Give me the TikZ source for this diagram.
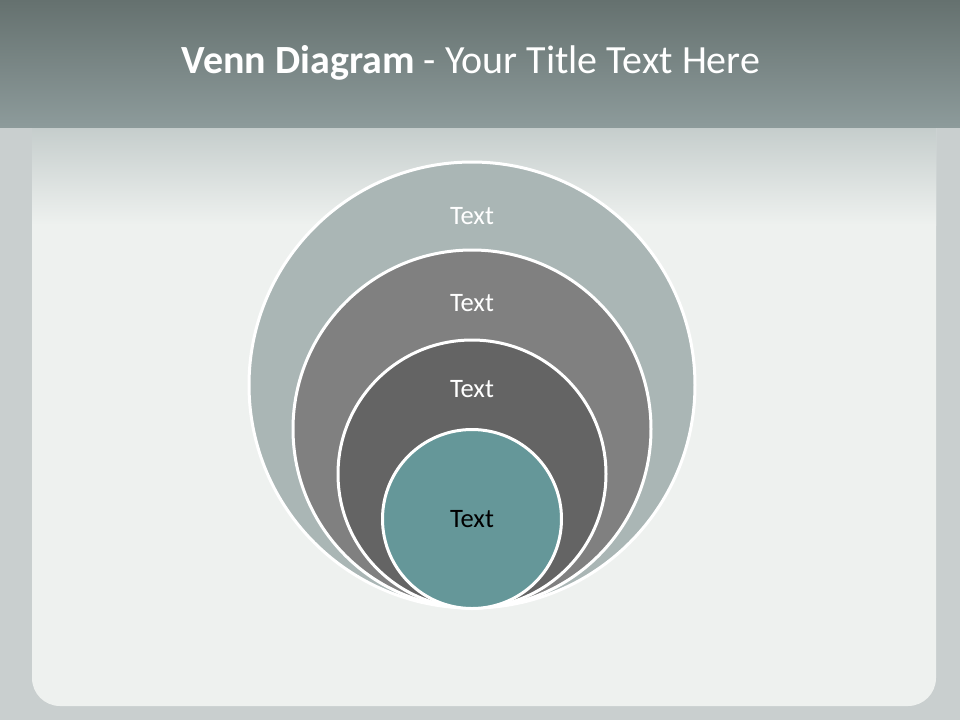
\documentclass[tikz,border=0pt]{standalone}
\usepackage{fontspec}
\setmainfont{Carlito}
\usepackage{xcolor}
\usepackage{tikz}
\usetikzlibrary{positioning}
\definecolor{barTop}{HTML}{65716F}
\definecolor{barBottom}{HTML}{8D9B9B}
\definecolor{frame}{HTML}{C9CFCF}
\definecolor{panel}{HTML}{EEF1EF}
\definecolor{panelTop}{HTML}{C5CDCC}
\definecolor{ringA}{HTML}{AAB6B5}
\definecolor{ringB}{HTML}{808080}
\definecolor{ringC}{HTML}{646464}
\definecolor{core}{HTML}{659799}
\tikzset{
  ring/.style={
    circle, draw=white, line width=1.5pt, fill=#1,
    inner sep=0pt,
  },
  ringtext/.style={font=\fontsize{13.3}{16}\selectfont, text=white},
}

\begin{document}
\begin{tikzpicture}[x=0.5pt, y=-0.5pt]

  % background
  \fill[frame] (0,0) rectangle (960,720);
  \fill[panel, rounded corners=14pt] (32,100) rectangle (936,706);
  \shade[top color=panelTop, bottom color=panel] (32,127) rectangle (936,225);
  \shade[top color=barTop, bottom color=barBottom] (0,0) rectangle (960,127);

  \node[font=\fontsize{20}{24}\selectfont, text=white] (title) at (471,63)
    {\textbf{Venn Diagram} - Your Title Text Here};

  % nested circles
  \node[ring=ringA, minimum size=223pt] (outer) at (472,385) {};
  \node[ring=ringB, minimum size=179pt] (second) at (472,429) {};
  \node[ring=ringC, minimum size=134pt] (third) at (472,474) {};
  \node[ring=core, minimum size=89.5pt] (inner) at (472,519) {};

  \node[ringtext] (t1) at (472,216) {Text};
  \node[ringtext] (t2) at (472,303) {Text};
  \node[ringtext] (t3) at (472,389) {Text};
  \node[ringtext, text=black] (t4) at (inner) {Text};

\end{tikzpicture}
\end{document}
